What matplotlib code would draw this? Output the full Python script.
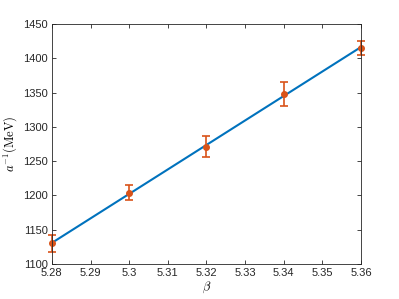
import matplotlib
matplotlib.use('Agg')
import matplotlib.pyplot as plt
import numpy as np

# Data
beta = [5.28, 5.30, 5.32, 5.34, 5.36]
ainv = [1130, 1204, 1271, 1348, 1415]
err = [13, 11, 15, 18, 10]

plt.rcParams['font.family'] = ['Liberation Sans', 'DejaVu Sans']
plt.rcParams['mathtext.fontset'] = 'cm'

fig = plt.figure(figsize=(3.99, 2.99), dpi=100)
ax = fig.add_axes([0.130, 0.117, 0.775, 0.803])

# linear fit line
coef = np.polyfit(beta, ainv, 1)
xs = np.array([beta[0], beta[-1]])
ax.plot(xs, np.polyval(coef, xs), color='#0072BD', linewidth=1.5)

eb = ax.errorbar(beta, ainv, yerr=err, fmt='o', color='#D95319', markersize=4,
                 elinewidth=1.2, capsize=3, capthick=1.2)
for art in eb.lines[0:1] + tuple(eb.lines[1]) + tuple(eb.lines[2]):
    art.set_clip_on(False)

ax.set_xlim(5.28, 5.36)
ax.set_ylim(1100, 1450)
ax.set_xticks([5.28, 5.29, 5.30, 5.31, 5.32, 5.33, 5.34, 5.35, 5.36])
ax.set_xticklabels(['5.28', '5.29', '5.3', '5.31', '5.32', '5.33', '5.34', '5.35', '5.36'])
ax.set_yticks(np.arange(1100, 1451, 50))

ax.set_xlabel(r'$\beta$', fontsize=9, labelpad=1)
ax.set_ylabel(r'$a^{-1}(\mathrm{MeV})$', fontsize=9, labelpad=3)

for s in ax.spines.values():
    s.set_color('#262626')
    s.set_linewidth(0.6)
ax.tick_params(direction='in', top=True, right=True, length=3, width=0.6,
               colors='#262626', labelsize=8, pad=3)

plt.savefig('out.png', dpi=100)
